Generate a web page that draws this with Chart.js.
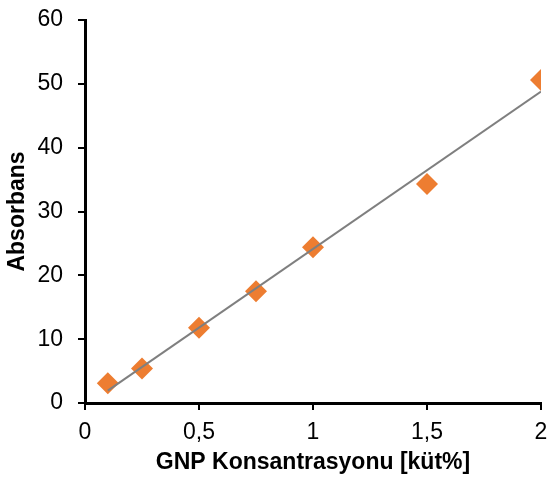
<!DOCTYPE html>
<html>
<head>
<meta charset="utf-8">
<script src="https://cdn.jsdelivr.net/npm/chart.js@4"></script>
<style>
  body { margin: 0; background: #fff; }
</style>
</head>
<body>
<canvas id="chart" width="553" height="480"></canvas>
<script>
const konsantrasyon = [0.1, 0.25, 0.5, 0.75, 1, 1.5, 2];
const absorbans = [3.1, 5.4, 11.8, 17.5, 24.4, 34.3, 50.6];
// trend line ends
const trendX = [0.1, 2];
const trendY = [1.95, 48.8];

const font = { family: 'Liberation Sans, Arial, sans-serif', size: 23 };
const boldFont = { family: 'Liberation Sans, Arial, sans-serif', size: 23, weight: 'bold' };

new Chart(document.getElementById('chart').getContext('2d'), {
  type: 'scatter',
  data: {
    datasets: [{
      label: 'Absorbans',
      data: konsantrasyon.map((x, i) => ({ x: x, y: absorbans[i] })),
      pointStyle: 'rectRot',
      pointRadius: 11,
      pointHoverRadius: 11,
      backgroundColor: '#ED7D31',
      borderColor: '#ED7D31',
      borderWidth: 0,
      order: 2
    }, {
      label: 'Trend',
      type: 'line',
      data: trendX.map((x, i) => ({ x: x, y: trendY[i] })),
      borderColor: '#7f7f7f',
      borderWidth: 2,
      pointRadius: 0,
      fill: false,
      order: 1
    }]
  },
  options: {
    responsive: false,
    animation: false,
    layout: { padding: 0 },
    plugins: {
      legend: { display: false },
      tooltip: { enabled: false }
    },
    scales: {
      x: {
        type: 'linear',
        min: 0,
        max: 2,
        ticks: {
          stepSize: 0.5,
          color: '#000',
          font: font,
          padding: 9,
          callback: v => v.toString().replace('.', ',')
        },
        grid: { drawOnChartArea: false, color: '#000', lineWidth: 2, tickLength: 7 },
        border: { color: '#000', width: 3 },
        title: {
          display: true,
          text: 'GNP Konsantrasyonu [küt%]',
          color: '#000',
          font: boldFont,
          padding: { top: 0, bottom: 4 }
        },
        afterFit: s => { s.height = 77; s.paddingRight = 12; }
      },
      y: {
        min: 0,
        max: 60,
        ticks: { stepSize: 10, color: '#000', font: font, padding: 15 },
        grid: { drawOnChartArea: false, color: '#000', lineWidth: 2, tickLength: 7 },
        border: { color: '#000', width: 3 },
        title: {
          display: true,
          text: 'Absorbans',
          color: '#000',
          font: boldFont,
          padding: { top: 3.5, bottom: 0 }
        },
        afterFit: s => { s.width = 85; s.paddingTop = 20; }
      }
    }
  }
});
</script>
</body>
</html>
